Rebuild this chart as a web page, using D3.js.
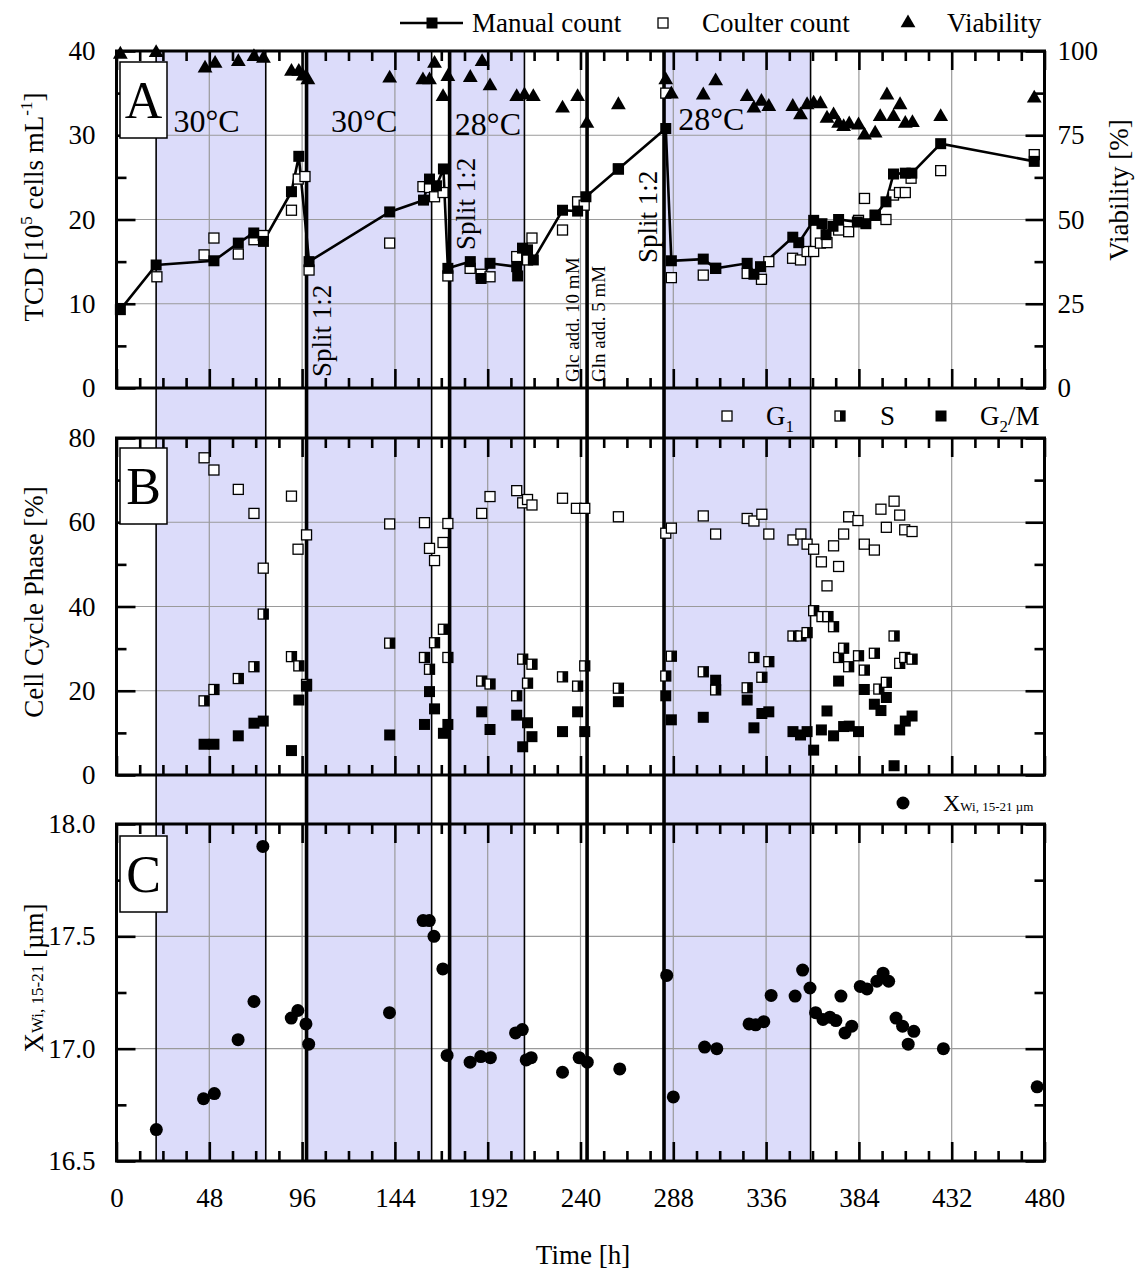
<!DOCTYPE html>
<html><head><meta charset="utf-8">
<script src="https://cdn.jsdelivr.net/npm/d3@7"></script>
<style>
body{margin:0;background:#fff;}
text{font-family:"Liberation Serif","Times New Roman",serif;fill:#000;}
</style></head>
<body>
<svg id="chart" width="1139" height="1272"></svg>
<script>
// ---------------- DATA ----------------
const manualCount = [[2,9.3],[20.5,14.6],[50.4,15.1],[63,17.2],[71,18.4],[76,17.4],[90.5,23.3],[94.3,27.5],[99.6,15.0],[141.3,20.9],[158.8,22.3],[161.9,24.8],[165.5,24.0],[169.1,26.0],[171.4,14.2],[183,15.0],[188.6,13.0],[193.2,14.8],[207,14.4],[207.5,13.3],[210,16.6],[212.6,16.4],[215.6,15.2],[230.7,21.1],[238.5,21.0],[242.8,22.7],[259.6,26.0],[284.1,30.8],[287,15.1],[303.5,15.3],[309.9,14.2],[326.2,14.8],[329.7,13.5],[333.1,14.4],[349.8,17.9],[352.9,17.25],[360.6,19.9],[364.9,19.5],[367,18.2],[370.6,19.2],[373.5,20.0],[383.2,19.7],[387.6,19.5],[392.5,20.5],[398,22.1],[401.9,25.4],[408,25.5],[411.4,25.5],[426.3,29.0],[474.7,26.9]];
const coulterCount = [[20.9,13.2],[45.3,15.8],[50.4,17.8],[63,15.9],[71.1,17.6],[75.9,18.1],[90.5,21.1],[94,24.8],[97.5,25.1],[99.6,14.0],[141.3,17.2],[158.5,23.9],[161.9,23.8],[164.5,22.7],[168.9,23.2],[171.4,13.3],[182.9,14.2],[188.6,13.5],[193.2,13.2],[207,15.6],[212.6,15.2],[214.9,17.8],[230.7,18.75],[238.5,22.1],[241.9,21.7],[259.6,26.0],[284.1,35.0],[287,13.1],[303.5,13.4],[309.9,14.2],[326.2,13.6],[333.6,12.9],[337.4,15.0],[349.7,15.4],[353.8,15.2],[357.2,16.2],[360.6,16.2],[364.1,17.2],[367.5,17.25],[373.5,18.75],[378.7,18.55],[383.8,19.9],[386.9,22.5],[392.4,20.5],[398,20.0],[401.9,22.9],[405,23.2],[408,23.2],[411,24.9],[426.3,25.8],[474.7,27.7]];
const viability = [[2,99],[20.5,99.5],[45.8,94.9],[51,96.3],[63,96.8],[71.1,98.3],[76,97.8],[90.5,93.9],[94.3,93.9],[96.5,92.5],[99,91.4],[141.3,91.9],[158.5,91.4],[161.9,91.4],[164.5,96.3],[168.9,86.4],[171.4,92.4],[183,92.1],[189.1,96.8],[193.2,89.6],[207,86.4],[211,86.9],[215.6,86.4],[230.7,83],[238.5,86.4],[243.3,78.5],[259.6,84],[284.1,91.4],[287,87.2],[303.5,86.9],[309.9,91.1],[326.2,86.4],[329.7,83],[333.6,85],[337.4,83.5],[349.8,83.5],[353.8,81],[357.2,84],[360.6,84.5],[364.1,84.3],[367.5,80],[370.9,81],[373.5,78.5],[376.1,77.5],[379,78.3],[383.8,78],[386.9,75],[392.4,75.6],[395,80.5],[398.5,86.9],[401.9,80.5],[405.3,84],[408,78.5],[411.7,78.7],[426.3,80.5],[474.7,86]];
const phaseG1 = [[45.3,75.3],[50.4,72.4],[63,67.8],[71.1,62.1],[75.9,49.1],[90.5,66.2],[93.9,53.6],[98.3,57.0],[141.3,59.6],[159.3,59.9],[161.9,53.8],[164.5,50.9],[168.9,55.2],[171.4,59.7],[188.9,62.1],[193.2,66.1],[207,67.5],[210.1,64.6],[212.6,65.4],[214.9,64.1],[230.7,65.7],[237.9,63.3],[242.2,63.3],[259.6,61.3],[284.1,57.4],[287,58.6],[303.5,61.5],[309.9,57.2],[326.2,60.9],[329.7,60.3],[333.8,61.9],[337.4,57.2],[349.9,55.8],[354,57.2],[357.2,54.8],[360.6,53.6],[364.6,50.6],[367.5,44.9],[370.9,54.4],[373.5,49.5],[376.1,57.2],[378.7,61.3],[383.5,60.4],[386.8,54.8],[392,53.4],[395.4,63.1],[398.2,58.8],[402.2,65.0],[405.1,61.7],[407.7,58.2],[411.5,57.8]];
const phaseS = [[45.3,17.6],[50.4,20.3],[63,22.9],[71.1,25.7],[75.9,38.2],[90.5,28.1],[94.3,25.9],[98.3,21.5],[141.3,31.3],[159.3,27.9],[161.9,25.1],[164.5,31.4],[169.1,34.6],[171.4,27.9],[188.9,22.3],[193.2,21.6],[207,18.8],[210.1,27.5],[212.6,21.8],[214.9,26.3],[230.7,23.3],[238.5,21.1],[242.2,25.9],[259.6,20.6],[284.1,23.5],[287,28.2],[303.5,24.5],[309.9,20.2],[326.2,20.7],[329.7,27.9],[333.8,23.2],[337.4,26.9],[349.9,33.0],[354,33.0],[357.2,33.8],[360.6,39.0],[364.9,37.6],[368,37.6],[370.9,35.2],[373.5,27.9],[376.1,30.1],[378.7,25.7],[383.8,28.3],[386.8,24.9],[392,28.9],[394.3,20.4],[398.2,22.0],[402.2,33.0],[405.1,26.5],[407.7,27.9],[411.5,27.5]];
const phaseG2M = [[45.3,7.3],[50.4,7.3],[63,9.3],[71.1,12.3],[75.9,12.8],[90.5,5.8],[94.3,17.8],[98.3,21.1],[141.3,9.5],[159.3,12.0],[161.9,19.8],[164.5,15.7],[169.1,9.9],[171.4,12.0],[188.9,15.0],[193.2,10.8],[207,14.2],[210.1,6.7],[212.6,12.4],[214.9,9.1],[230.7,10.3],[238.5,15.0],[242.2,10.3],[259.6,17.4],[284.1,18.8],[287,13.1],[303.5,13.7],[309.9,22.5],[326.2,17.8],[329.7,11.2],[333.8,14.6],[337.4,15.0],[349.9,10.3],[353.8,9.5],[357.2,10.3],[360.6,5.9],[364.6,10.7],[367.5,15.2],[370.9,9.3],[373.5,22.3],[376.1,11.5],[379,11.6],[383.8,10.3],[386.8,20.3],[392,16.8],[395.4,15.3],[398.2,18.4],[402.2,2.2],[405.1,10.7],[408,12.8],[411.5,14.0]];
const xwi = [[20.6,16.64],[45,16.777],[50.6,16.80],[62.9,17.04],[71.1,17.21],[75.7,17.90],[90.4,17.136],[93.8,17.17],[98,17.11],[99.4,17.02],[141.2,17.16],[158.6,17.57],[161.8,17.57],[164.2,17.50],[168.8,17.355],[171,16.97],[182.9,16.94],[188.4,16.965],[193.4,16.96],[206.4,17.07],[209.9,17.085],[211.9,16.95],[214.5,16.96],[230.7,16.895],[239.3,16.96],[243.5,16.94],[260.3,16.91],[284.6,17.326],[288,16.785],[304.2,17.007],[310.5,17.0],[327.2,17.11],[330.6,17.106],[334.8,17.12],[338.6,17.237],[351,17.234],[354.9,17.35],[358.7,17.27],[361.6,17.16],[365.4,17.13],[369,17.14],[372.1,17.125],[374.7,17.234],[376.8,17.07],[380.3,17.10],[384.7,17.277],[388.2,17.266],[393.3,17.30],[396.5,17.336],[399.4,17.30],[403.2,17.136],[406.6,17.10],[409.5,17.02],[412.4,17.077],[427.7,17.0],[476.2,16.83]];
const shadedPeriods = [[20.5,77.2],[98.3,163],[172.3,211],[283.2,359]];
const thinLines = [20.5,77.2,163,211,359];
const thickLines = [98.3,172.3,243.4,283.2];
const xTicks = [0,48,96,144,192,240,288,336,384,432,480];
const tcdTicks = [0,10,20,30,40];
const viabTicks = [0,25,50,75,100];
const phaseTicks = [0,20,40,60,80];
const xwiTicks = [16.5,17.0,17.5,18.0];

// ---------------- SETUP ----------------
const svg = d3.select("#chart");
const FONT = 27;
const x = d3.scaleLinear().domain([0,480]).range([116.5,1044.5]);
const yA = d3.scaleLinear().domain([0,40]).range([388,51]);
const yV = d3.scaleLinear().domain([0,100]).range([388,51]);
const yB = d3.scaleLinear().domain([0,80]).range([775,438]);
const yC = d3.scaleLinear().domain([16.5,18]).range([1161,824]);
const TOP = 51, BOT = 1161, L = x.range()[0], R = x.range()[1];
const xMinor = d3.range(0,481,12).filter(v=>v%48!==0);

// shading across all panels
svg.append("g").selectAll("rect").data(shadedPeriods).join("rect")
  .attr("x",d=>x(d[0])).attr("width",d=>x(d[1])-x(d[0]))
  .attr("y",TOP).attr("height",BOT-TOP).attr("fill","#dcdcfa");

const panels = [
  {y:yA, ticks:tcdTicks, minor:[5,15,25,35], fmt:d3.format("d"), right:{y:yV,ticks:viabTicks}},
  {y:yB, ticks:phaseTicks, minor:[10,30,50,70], fmt:d3.format("d")},
  {y:yC, ticks:xwiTicks, minor:[16.75,17.25,17.75], fmt:d3.format(".1f")}
];

// gridlines
panels.forEach(p=>{
  const [b,t] = p.y.range();
  const g = svg.append("g").attr("stroke","#9a9a9a").attr("stroke-width",1.2);
  g.selectAll(".vx").data(xTicks.slice(1,-1)).join("line")
    .attr("x1",d=>x(d)).attr("x2",d=>x(d)).attr("y1",t).attr("y2",b);
  g.selectAll(".hy").data(p.ticks.slice(1,-1)).join("line")
    .attr("x1",L).attr("x2",R).attr("y1",d=>p.y(d)).attr("y2",d=>p.y(d));
});

// vertical event lines
svg.append("g").selectAll("line").data(thinLines).join("line")
  .attr("x1",d=>x(d)).attr("x2",d=>x(d)).attr("y1",TOP).attr("y2",BOT)
  .attr("stroke","#000").attr("stroke-width",1.6);
svg.append("g").selectAll("line").data(thickLines).join("line")
  .attr("x1",d=>x(d)).attr("x2",d=>x(d)).attr("y1",TOP).attr("y2",BOT)
  .attr("stroke","#000").attr("stroke-width",3.6);

// axes (ticks inward)
function styleAxis(g){ g.select(".domain").remove(); g.selectAll(".tick line").attr("stroke","#000").attr("stroke-width",2.6); g.selectAll("text").attr("font-size",FONT).attr("font-family","Liberation Serif"); }
panels.forEach((p,i)=>{
  const [b,t] = p.y.range();
  const mk = (axisFn, vals, size, pos, fmt, pad) => {
    const a = axisFn.tickValues(vals).tickSizeInner(-size).tickSizeOuter(0).tickPadding(pad||0).tickFormat(fmt||"");
    svg.append("g").attr("transform",pos).call(a).call(styleAxis);
  };
  mk(d3.axisBottom(x), xTicks, 19, `translate(0,${b})`);
  mk(d3.axisBottom(x), xMinor, 10, `translate(0,${b})`);
  mk(d3.axisTop(x), xTicks, 19, `translate(0,${t})`);
  mk(d3.axisTop(x), xMinor, 10, `translate(0,${t})`);
  mk(d3.axisLeft(p.y), p.ticks, 19, `translate(${L},0)`);
  mk(d3.axisLeft(p.y), p.minor, 10, `translate(${L},0)`);
  mk(d3.axisRight(p.y), p.ticks, 19, `translate(${R},0)`);
  mk(d3.axisRight(p.y), p.minor, 10, `translate(${R},0)`);
  // left labels
  svg.append("g").attr("transform",`translate(${L},0)`)
    .call(d3.axisLeft(p.y).tickValues(p.ticks).tickSize(0).tickPadding(21).tickFormat(p.fmt)).call(styleAxis);
  if(p.right){
    svg.append("g").attr("transform",`translate(${R},0)`)
      .call(d3.axisRight(p.right.y).tickValues(p.right.ticks).tickSize(0).tickPadding(13).tickFormat(d3.format("d"))).call(styleAxis);
  }
  svg.append("rect").attr("x",L).attr("y",t).attr("width",R-L).attr("height",b-t)
    .attr("fill","none").attr("stroke","#000").attr("stroke-width",3);
});
// bottom x labels
svg.append("g").attr("transform",`translate(0,${BOT})`)
  .call(d3.axisBottom(x).tickValues(xTicks).tickSize(0).tickPadding(27).tickFormat(d3.format("d"))).call(styleAxis);

// ---------------- PANEL A ----------------
const gA = svg.append("g");
gA.append("path").datum(manualCount)
  .attr("d", d3.line().x(d=>x(d[0])).y(d=>yA(d[1])))
  .attr("fill","none").attr("stroke","#000").attr("stroke-width",2.6);
const S1 = 11;
gA.selectAll(".cc").data(coulterCount).join("rect")
  .attr("x",d=>x(d[0])-S1/2+0.5).attr("y",d=>yA(d[1])-S1/2+0.5).attr("width",S1-1).attr("height",S1-1)
  .attr("fill","#fff").attr("stroke","#000").attr("stroke-width",1.3);
gA.selectAll(".mc").data(manualCount).join("rect")
  .attr("x",d=>x(d[0])-S1/2).attr("y",d=>yA(d[1])-S1/2).attr("width",S1).attr("height",S1).attr("fill","#000");
const tri = d3.symbol().type(d3.symbolTriangle).size(95);
gA.selectAll(".vb").data(viability).join("path")
  .attr("d",tri).attr("transform",d=>`translate(${x(d[0])},${yV(d[1])})`).attr("fill","#000");

// temperature labels
[["30°C",29.5,132],["30°C",111,132],["28°C",175,135],["28°C",290.5,130]].forEach(t=>{
  svg.append("text").attr("x",x(t[1])).attr("y",t[2]).attr("font-size",32).text(t[0]);
});
// rotated annotations
function vtext(t, xp, yp, fs){
  svg.append("text").attr("transform",`translate(${xp},${yp}) rotate(-90)`).attr("font-size",fs).text(t);
}
vtext("Split 1:2", x(98.3)+24, 377, FONT);
vtext("Split 1:2", x(172.3)+25, 250, FONT);
vtext("Split 1:2", x(283.2)-7, 263, FONT);
vtext("Glc add. 10 mM", x(243.4)-8, 382, 19);
vtext("Gln add. 5 mM", x(243.4)+18, 382, 19);

// ---------------- PANEL B ----------------
const gB = svg.append("g");
const S2 = 10;
gB.selectAll(".g1").data(phaseG1).join("rect")
  .attr("x",d=>x(d[0])-S2/2).attr("y",d=>yB(d[1])-S2/2).attr("width",S2).attr("height",S2)
  .attr("fill","#fff").attr("stroke","#000").attr("stroke-width",1.3);
function halfSquare(sel, cx, cy, s){
  sel.append("rect").attr("x",cx-s/2).attr("y",cy-s/2).attr("width",s).attr("height",s)
    .attr("fill","#fff").attr("stroke","#000").attr("stroke-width",1.3);
  sel.append("rect").attr("x",cx).attr("y",cy-s/2).attr("width",s/2).attr("height",s).attr("fill","#000");
}
phaseS.forEach(d=>halfSquare(gB, x(d[0]), yB(d[1]), S2));
gB.selectAll(".g2").data(phaseG2M).join("rect")
  .attr("x",d=>x(d[0])-S1/2).attr("y",d=>yB(d[1])-S1/2).attr("width",S1).attr("height",S1).attr("fill","#000");

// ---------------- PANEL C ----------------
svg.append("g").selectAll("circle").data(xwi).join("circle")
  .attr("cx",d=>x(d[0])).attr("cy",d=>yC(d[1])).attr("r",6.5).attr("fill","#000");

// panel letter boxes
[["A",62],["B",448],["C",836]].forEach(b=>{
  svg.append("rect").attr("x",120).attr("y",b[1]).attr("width",47).attr("height",76)
    .attr("fill","#fff").attr("stroke","#000").attr("stroke-width",1.5);
  svg.append("text").attr("x",143.5).attr("y",b[1]+56).attr("text-anchor","middle").attr("font-size",52).text(b[0]);
});

// ---------------- AXIS TITLES ----------------
const tA = svg.append("text").attr("transform","translate(43,207) rotate(-90)").attr("text-anchor","middle").attr("font-size",FONT);
tA.append("tspan").text("TCD [10");
tA.append("tspan").attr("dy",-11).attr("font-size",17).text("5");
tA.append("tspan").attr("dy",11).text(" cells mL");
tA.append("tspan").attr("dy",-11).attr("font-size",17).text("-1");
tA.append("tspan").attr("dy",11).text("]");
svg.append("text").attr("transform","translate(1128,190) rotate(-90)").attr("text-anchor","middle").attr("font-size",FONT).text("Viability [%]");
svg.append("text").attr("transform","translate(43,602) rotate(-90)").attr("text-anchor","middle").attr("font-size",FONT).text("Cell Cycle Phase [%]");
const tC = svg.append("text").attr("transform","translate(43,978) rotate(-90)").attr("text-anchor","middle").attr("font-size",FONT);
tC.append("tspan").text("X");
tC.append("tspan").attr("font-size",17).text("Wi, 15-21");
tC.append("tspan").text(" [µm]");
svg.append("text").attr("x",583).attr("y",1264).attr("text-anchor","middle").attr("font-size",FONT).text("Time [h]");

// ---------------- LEGENDS ----------------
const lg = svg.append("g");
lg.append("line").attr("x1",400).attr("x2",463).attr("y1",23).attr("y2",23).attr("stroke","#000").attr("stroke-width",2.6);
lg.append("rect").attr("x",432-S1/2).attr("y",23-S1/2).attr("width",S1).attr("height",S1).attr("fill","#000");
lg.append("text").attr("x",472).attr("y",32).attr("font-size",FONT).text("Manual count");
lg.append("rect").attr("x",663-5).attr("y",23-5).attr("width",10).attr("height",10).attr("fill","#fff").attr("stroke","#000").attr("stroke-width",1.3);
lg.append("text").attr("x",702).attr("y",32).attr("font-size",FONT).text("Coulter count");
lg.append("path").attr("d",tri).attr("transform","translate(908,23)").attr("fill","#000");
lg.append("text").attr("x",947).attr("y",32).attr("font-size",FONT).text("Viability");

// panel B legend
lg.append("rect").attr("x",727-S2/2).attr("y",416-S2/2).attr("width",S2).attr("height",S2).attr("fill","#fff").attr("stroke","#000").attr("stroke-width",1.3);
const gl1 = lg.append("text").attr("x",766).attr("y",425).attr("font-size",FONT);
gl1.append("tspan").text("G"); gl1.append("tspan").attr("dy",7).attr("font-size",17).text("1");
halfSquare(lg, 840, 416, S2);
lg.append("text").attr("x",880).attr("y",425).attr("font-size",FONT).text("S");
lg.append("rect").attr("x",941-S1/2).attr("y",416-S1/2).attr("width",S1).attr("height",S1).attr("fill","#000");
const gl2 = lg.append("text").attr("x",980).attr("y",425).attr("font-size",FONT);
gl2.append("tspan").text("G"); gl2.append("tspan").attr("dy",7).attr("font-size",17).text("2");
gl2.append("tspan").attr("dy",-7).text("/M");

// panel C legend
lg.append("circle").attr("cx",903).attr("cy",803).attr("r",6.5).attr("fill","#000");
const cl = lg.append("text").attr("x",943).attr("y",811).attr("font-size",24);
cl.append("tspan").text("X"); cl.append("tspan").attr("font-size",13).text("Wi, 15-21 µm");
</script>
</body></html>
